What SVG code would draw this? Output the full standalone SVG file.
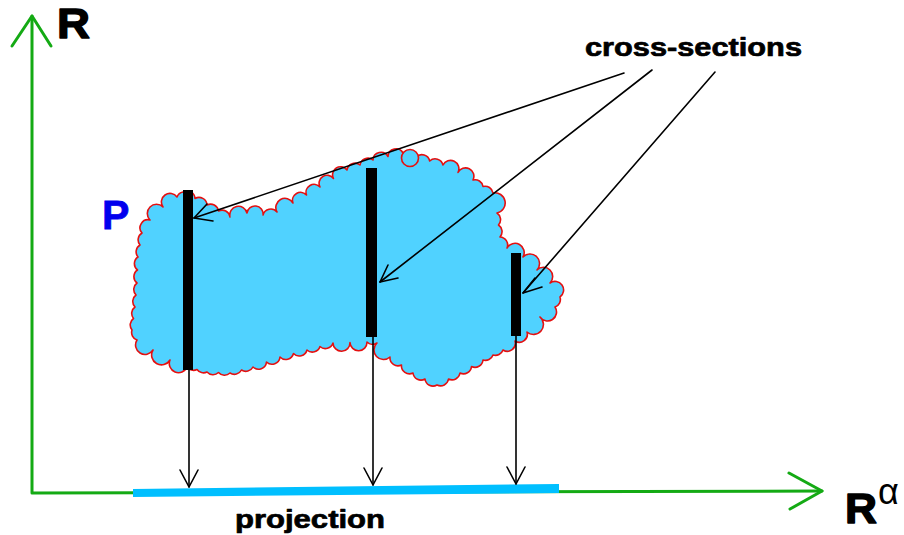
<svg xmlns="http://www.w3.org/2000/svg" width="904" height="535" viewBox="0 0 904 535">
<style>
.axis{stroke:#14aa14;stroke-width:3;fill:none;stroke-linecap:round;stroke-linejoin:round}
.ptr{stroke:#000;stroke-width:1.6;fill:none;stroke-linecap:round;stroke-linejoin:round}
.bar{fill:#000}
.lbl{font-family:"Liberation Sans",Arial,sans-serif;font-weight:bold;fill:#000;stroke:#000;stroke-width:0.7;stroke-linejoin:round}
.big{font-family:"Liberation Sans",Arial,sans-serif;font-weight:bold;fill:#000;stroke:#000;stroke-width:1.4;stroke-linejoin:round}
</style>
<rect width="904" height="535" fill="#fff"/>
<g id="axes">
<polyline class="axis" points="32,16 32,493 822,491"/>
<polyline class="axis" points="12,46 32,16 51,46"/>
<polyline class="axis" points="789,473 822,491 790,509"/>
</g>
<g id="projection">
<polygon points="133,489 559,484 559,493 133,497" fill="#00bfff"/>
</g>
<g id="set-P">
<path fill="#50d2ff" stroke="#e41010" stroke-width="1.6" stroke-linejoin="round" d="M183,192
A8,8 0 0 1 195,198.5 A8,8 0 0 1 207,205 A8,8 0 0 1 218.5,211 A8,8 0 0 1 230,217 A8,8 0 0 1 247,213 A8,8 0 0 1 263,215 A8,8 0 0 1 277,212 A8,8 0 0 1 293,203 A8,8 0 0 1 306.5,195 A8,8 0 0 1 320,187 A8,8 0 0 1 333.5,178.5 A8,8 0 0 1 347,170 A8,8 0 0 1 360,165 A8,8 0 0 1 373,160 A8,8 0 0 1 388,156.5 A8,8 0 0 1 403,153 A8,8 0 0 1 416.3,157 A8,8 0 0 1 429.7,161 A8,8 0 0 1 443,165 A8,8 0 0 1 458,172.5 A8,8 0 0 1 473,180 A8,8 0 0 1 483,186.5 A8,8 0 0 1 493,193 A8,8 0 0 1 497,213 A8,8 0 0 1 498.5,225 A8,8 0 0 1 500,237 A8,8 0 0 1 507,248 A8,8 0 0 1 523,257 A8,8 0 0 1 537,270 A8,8 0 0 1 550,283 A8,8 0 0 1 560,297 A8,8 0 0 1 555,307 A8,8 0 0 1 540,317 A8,8 0 0 1 527,332 A8,8 0 0 1 515,341 A8,8 0 0 1 503,350 A8,8 0 0 1 493,355 A8,8 0 0 1 483,360 A8,8 0 0 1 471.5,366.5 A8,8 0 0 1 460,373 A8,8 0 0 1 448.5,379 A8,8 0 0 1 437,385 A8,8 0 0 1 425,379 A8,8 0 0 1 413,373 A8,8 0 0 1 401.5,365 A8,8 0 0 1 390,357 A8,8 0 0 1 377,343 A8,8 0 0 1 367,342 A8,8 0 0 1 350,342.5 A8,8 0 0 1 333,343 A8,8 0 0 1 320,346.5 A8,8 0 0 1 307,350 A8,8 0 0 1 293.5,353.5 A8,8 0 0 1 280,357 A8,8 0 0 1 266.5,362 A8,8 0 0 1 253,367 A8,8 0 0 1 241.5,370 A8,8 0 0 1 230,373 A8,8 0 0 1 218.5,372.5 A8,8 0 0 1 207,372 A8,8 0 0 1 197,369.5 A8,8 0 0 1 187,367 A8,8 0 0 1 170,360 A8,8 0 0 1 153,350 A8,8 0 0 1 137,340 A8,8 0 0 1 132,330 A8,8 0 0 1 133.5,318.5 A8,8 0 0 1 135,307 A8,8 0 0 1 136,295 A8,8 0 0 1 137,283 A8,8 0 0 1 137.5,270 A8,8 0 0 1 138,257 A8,8 0 0 1 140,245 A8,8 0 0 1 142,233 A8,8 0 0 1 150,220 A8,8 0 0 1 163,207 A8,8 0 0 1 177,197 A8,8 0 0 1 183,192 Z"/>
<circle cx="410" cy="158" r="8.5" fill="#50d2ff" stroke="#e41010" stroke-width="1.6"/>
<text x="102" y="229" font-family="'Liberation Sans',Arial,sans-serif" font-weight="bold" font-size="41" fill="#0000ee" stroke="#0000ee" stroke-width="0.8">P</text>
</g>
<g id="sections">
<rect class="bar" x="183" y="190" width="10" height="180"/>
<rect class="bar" x="366" y="168" width="11" height="169"/>
<rect class="bar" x="511" y="253" width="10" height="83"/>
</g>
<g id="connectors">
<line class="ptr" x1="624" y1="73" x2="194" y2="218"/>
<polyline class="ptr" points="207,204 194,218 213,221"/>
<line class="ptr" x1="652" y1="70" x2="380" y2="282"/>
<polyline class="ptr" points="388,265 380,282 398,278"/>
<line class="ptr" x1="715" y1="72" x2="523" y2="293"/>
<polyline class="ptr" points="535,278 523,293 542,287"/>
<line class="ptr" x1="189" y1="370" x2="189" y2="487"/>
<polyline class="ptr" points="180,470 189,487 198,470"/>
<line class="ptr" x1="373" y1="337" x2="373" y2="485"/>
<polyline class="ptr" points="364,468 373,485 382,468"/>
<line class="ptr" x1="516" y1="336" x2="516" y2="484"/>
<polyline class="ptr" points="507,467 516,484 525,467"/>
</g>
<g id="labels">
<text class="big" x="57" y="38" font-size="42" textLength="33" lengthAdjust="spacingAndGlyphs">R</text>
<text class="lbl" x="585" y="56" font-size="26" textLength="217" lengthAdjust="spacingAndGlyphs">cross-sections</text>
<text class="lbl" x="235" y="528" font-size="25" textLength="150" lengthAdjust="spacingAndGlyphs">projection</text>
<text class="big" x="845" y="523" font-size="42" textLength="32" lengthAdjust="spacingAndGlyphs">R</text>
<text x="878" y="504" font-family="'Liberation Sans',Arial,sans-serif" font-size="36" fill="#000">α</text>
</g>
</svg>
